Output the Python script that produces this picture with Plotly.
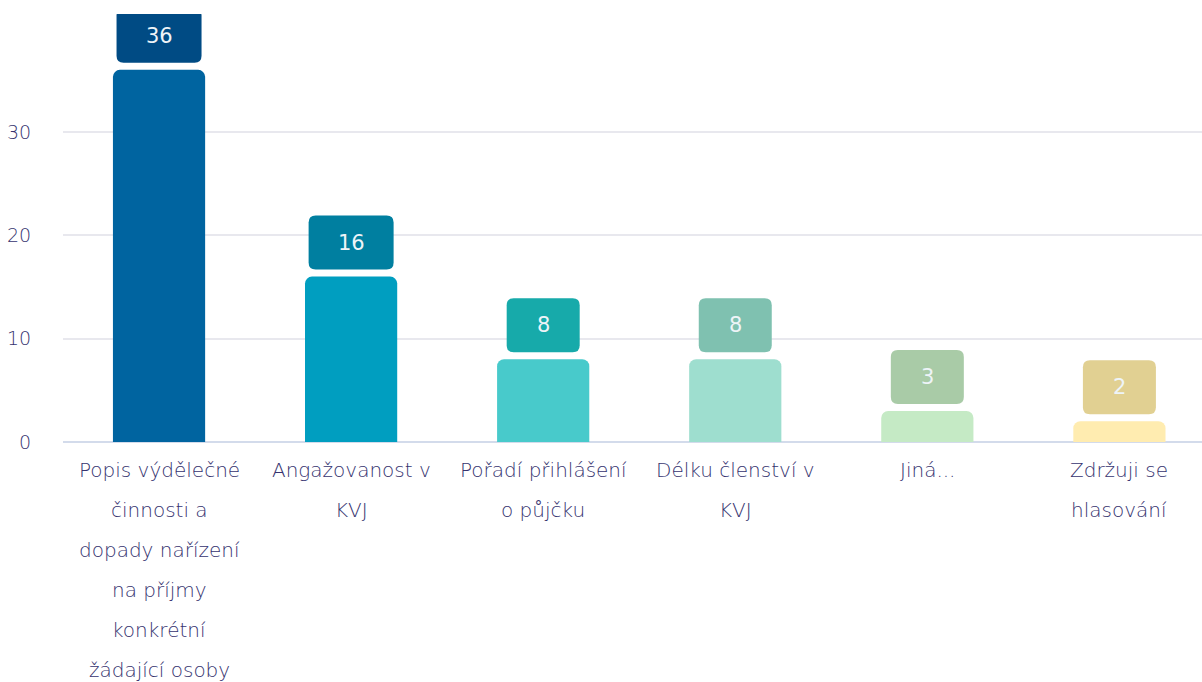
import plotly.graph_objects as go

categories = ["Popis výdělečné činnosti a dopady nařízení na příjmy konkrétní žádající osoby",
              "Angažovanost v KVJ", "Pořadí přihlášení o půjčku", "Délku členství v KVJ",
              "Jiná...", "Zdržuji se hlasování"]
label_lines = [
    ["Popis výdělečné", "činnosti a", "dopady nařízení", "na příjmy", "konkrétní", "žádající osoby"],
    ["Angažovanost v", "KVJ"],
    ["Pořadí přihlášení", "o půjčku"],
    ["Délku členství v", "KVJ"],
    ["Jiná..."],
    ["Zdržuji se", "hlasování"],
]
values = [36, 16, 8, 8, 3, 2]
bar_colors = ["#0064a0", "#009ec0", "#48cacb", "#9edecf", "#c5eac5", "#ffecb0"]
box_colors = ["#004b84", "#007fa0", "#17aaaa", "#7fc1b0", "#a9cba7", "#e1d092"]
y_ticks = [0, 10, 20, 30]

FONT = "DejaVu Sans"
TXT = "#36336f"

fig = go.Figure()
fig.add_trace(go.Bar(
    x=categories, y=values, marker=dict(color=bar_colors, cornerradius=7, line=dict(width=0)),
    hoverinfo="skip", showlegend=False,
))

shapes = []
annotations = []
for cat, v, bc, lines in zip(categories, values, box_colors, label_lines):
    txt = str(v)
    hw = 36.5 if len(txt) == 1 else 42.5
    b, t, r = 7, 61, 7
    path = (f"M {-hw + r},{b} L {hw - r},{b} Q {hw},{b} {hw},{b + r} L {hw},{t - r} "
            f"Q {hw},{t} {hw - r},{t} L {-hw + r},{t} Q {-hw},{t} {-hw},{t - r} "
            f"L {-hw},{b + r} Q {-hw},{b} {-hw + r},{b} Z")
    shapes.append(dict(type="path", xref="x", yref="y", xsizemode="pixel", ysizemode="pixel",
                       xanchor=cat, yanchor=v, path=path, fillcolor=bc, line=dict(width=0),
                       layer="above"))
    annotations.append(dict(x=cat, y=v, xref="x", yref="y", text=txt, showarrow=False,
                            yshift=34, font=dict(family=FONT, size=21, color="#eef4f8")))
    for i, ln in enumerate(lines):
        annotations.append(dict(x=cat, y=0, xref="x", yref="paper", text=ln, showarrow=False,
                                yanchor="middle", yshift=-28 - 40 * i,
                                font=dict(family=FONT, size=20, weight=200, color=TXT)))

fig.update_layout(
    width=1202, height=682,
    margin=dict(l=63, r=0, t=14, b=240),
    paper_bgcolor="white", plot_bgcolor="white",
    bargap=0.52,
    shapes=shapes, annotations=annotations,
    xaxis=dict(type="category", showticklabels=False, showgrid=False, zeroline=False,
               showline=False, range=[-0.5, 5.43], fixedrange=True),
    yaxis=dict(range=[0, 41.4], tickvals=y_ticks, showgrid=True, gridcolor="#e8e8ee",
               gridwidth=2, zeroline=True, zerolinecolor="#d3dbeb", zerolinewidth=2,
               showline=False, ticks="outside", ticklen=27, tickcolor="rgba(0,0,0,0)",
               tickfont=dict(family=FONT, size=19, weight=200, color=TXT), fixedrange=True),
    showlegend=False,
)

fig.write_html("out.html")
